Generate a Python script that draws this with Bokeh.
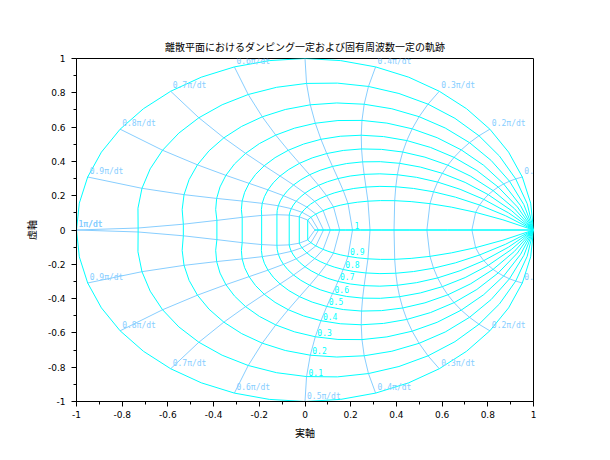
import numpy as np
from bokeh.plotting import figure
from bokeh.models import FixedTicker, Range1d
from bokeh.embed import file_html
from bokeh.resources import INLINE
from bokeh.core.properties import value

# ---------------- data ----------------
title_text = "離散平面におけるダンピング一定および固有周波数一定の軌跡"
x_label = "実軸"
y_label = "虚軸"

# damping ratios (constant-damping curves)
zeta_values = [0.0, 0.1, 0.2, 0.3, 0.4, 0.5, 0.6, 0.7, 0.8, 0.9, 1.0]
zeta_labels = ["", "0.1", "0.2", "0.3", "0.4", "0.5", "0.6", "0.7", "0.8", "0.9", "1"]

# natural frequencies, in units of pi/dt (constant-frequency curves)
wn_values = [0.1, 0.2, 0.3, 0.4, 0.5, 0.6, 0.7, 0.8, 0.9, 1.0]
wn_labels = ["0.1π/dt", "0.2π/dt", "0.3π/dt", "0.4π/dt", "0.5π/dt",
             "0.6π/dt", "0.7π/dt", "0.8π/dt", "0.9π/dt", "1π/dt"]

# sampling of wn along damping curves (units of pi/dt)
wn_grid = [0.0, 0.05, 0.1, 0.15, 0.2, 0.25, 0.3, 0.35, 0.4, 0.45, 0.5,
           0.55, 0.6, 0.65, 0.7, 0.75, 0.8, 0.85, 0.9, 0.95, 1.0]
# wn at which damping labels are placed (units of pi/dt)
zeta_label_wn = 0.5

x_ticks = [-1, -0.8, -0.6, -0.4, -0.2, 0, 0.2, 0.4, 0.6, 0.8, 1]
x_tick_labels = ["-1", "-0.8", "-0.6", "-0.4", "-0.2", "0", "0.2", "0.4", "0.6", "0.8", "1"]
x_minor = [-0.9, -0.7, -0.5, -0.3, -0.1, 0.1, 0.3, 0.5, 0.7, 0.9]
y_ticks = x_ticks
y_tick_labels = x_tick_labels
y_minor = x_minor

DAMP_COLOR = "#00FFFF"
WN_COLOR = "#87CEFF"

# ---------------- geometry ----------------
def zpoint(zeta, wn_frac, sign=1):
    w = np.asarray(wn_frac, dtype=float) * np.pi
    zeta = np.asarray(zeta, dtype=float)
    s = w * (-zeta + sign * 1j * np.sqrt(np.clip(1 - zeta ** 2, 0, None)))
    return np.exp(s)

damp_xs, damp_ys = [], []
for zt in zeta_values:
    up = zpoint(zt, wn_grid, 1)
    lo = zpoint(zt, wn_grid, -1)[::-1]
    damp_xs.append(list(np.concatenate([up.real, lo.real])))
    damp_ys.append(list(np.concatenate([up.imag, lo.imag])))

wn_xs, wn_ys = [], []
for wf in wn_values:
    up = zpoint(np.array(zeta_values), wf, 1)
    lo = zpoint(np.array(zeta_values), wf, -1)[::-1]
    wn_xs.append(list(np.concatenate([up.real, lo.real])))
    wn_ys.append(list(np.concatenate([up.imag, lo.imag])))

# label anchor points
wl_x, wl_y, wl_t = [], [], []
for wf, lab in zip(wn_values, wn_labels):
    for sg in (1, -1):
        zz = zpoint(0.0, wf, sg)
        wl_x.append(float(zz.real)); wl_y.append(float(zz.imag)); wl_t.append(lab)

zl_x, zl_y, zl_t = [], [], []
for zt, lab in zip(zeta_values, zeta_labels):
    if not lab:
        continue
    zz = zpoint(zt, zeta_label_wn, -1)
    zl_x.append(float(zz.real)); zl_y.append(float(zz.imag)); zl_t.append(lab)

# ---------------- figure ----------------
p = figure(width=610, height=460, output_backend="svg", toolbar_location=None,
           x_range=Range1d(-1, 1), y_range=Range1d(-1, 1),
           min_border_left=76, min_border_right=77, min_border_top=58, min_border_bottom=59,
           title=title_text)
p.background_fill_color = "white"
p.border_fill_color = "white"
p.outline_line_color = "black"
p.outline_line_width = 1
p.xgrid.visible = False
p.ygrid.visible = False

p.title.align = "center"
p.title.text_font = "Noto Sans CJK JP"
p.title.text_font_size = "10px"
p.title.text_font_style = "normal"
p.title.text_color = "black"

for ax, ticks, minor, labels in ((p.xaxis[0], x_ticks, x_minor, x_tick_labels),
                                 (p.yaxis[0], y_ticks, y_minor, y_tick_labels)):
    ax.ticker = FixedTicker(ticks=ticks, minor_ticks=minor)
    ax.major_label_overrides = {t: l for t, l in zip(ticks, labels)}
    ax.major_tick_out = 5
    ax.major_tick_in = 0
    ax.minor_tick_out = 3
    ax.minor_tick_in = 0
    ax.axis_line_color = "black"
    ax.major_tick_line_color = "black"
    ax.minor_tick_line_color = "black"
    ax.major_label_text_font = "DejaVu Sans"
    ax.major_label_text_font_size = "9px"
    ax.major_label_text_color = "black"
    ax.axis_label_text_font = "Noto Sans CJK JP"
    ax.axis_label_text_font_size = "10px"
    ax.axis_label_text_font_style = "normal"
    ax.axis_label_text_color = "black"

p.xaxis.axis_label = x_label
p.yaxis.axis_label = y_label
p.xaxis.major_label_standoff = 4
p.yaxis.major_label_standoff = 6
p.xaxis.axis_label_standoff = 4
p.yaxis.axis_label_standoff = 6

p.multi_line(xs=wn_xs, ys=wn_ys, line_color=WN_COLOR, line_width=1)
p.multi_line(xs=damp_xs, ys=damp_ys, line_color=DAMP_COLOR, line_width=1)

p.text(x=wl_x, y=wl_y, text=wl_t, text_color=WN_COLOR,
       text_font=value("DejaVu Sans Mono"), text_font_size="8px",
       text_align="left", text_baseline="bottom", x_offset=2, y_offset=-1)
p.text(x=zl_x, y=zl_y, text=zl_t, text_color=DAMP_COLOR,
       text_font=value("DejaVu Sans Mono"), text_font_size="8px",
       text_align="left", text_baseline="bottom", x_offset=2, y_offset=-1)

open("out.html", "w").write(file_html(p, INLINE))
